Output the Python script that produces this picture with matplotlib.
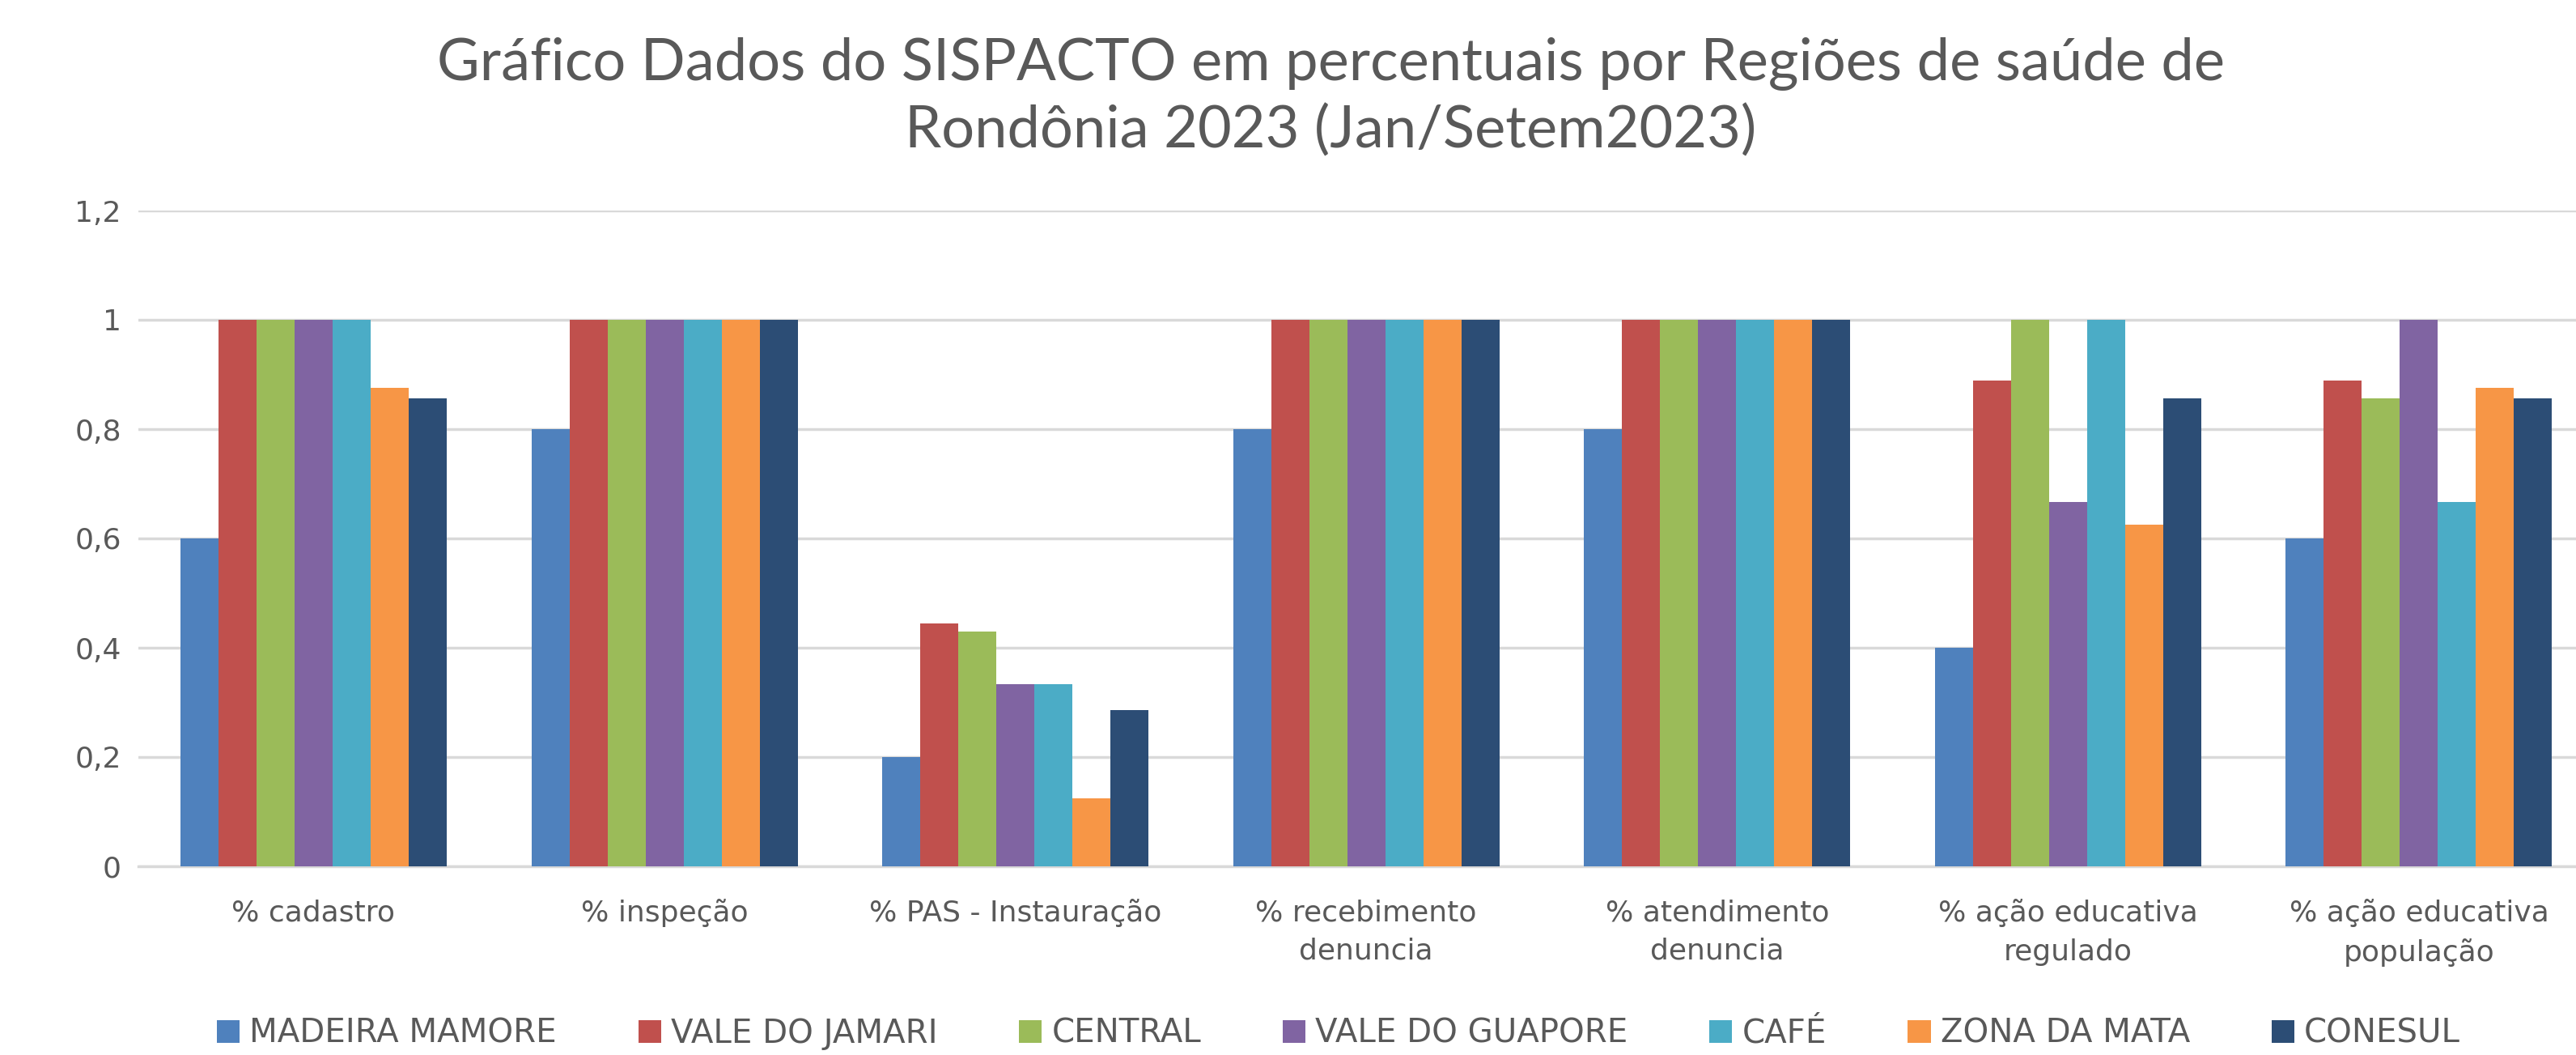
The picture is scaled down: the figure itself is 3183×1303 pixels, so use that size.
import matplotlib
matplotlib.use("Agg")
import matplotlib.pyplot as plt
import numpy as np

categorias = ["% cadastro", "% inspeção", "% PAS - Instauração",
              "% recebimento\ndenuncia", "% atendimento\ndenuncia",
              "% ação educativa\nregulado", "% ação educativa\npopulação"]

regioes = ["MADEIRA MAMORE", "VALE DO JAMARI", "CENTRAL", "VALE DO GUAPORE",
           "CAFÉ", "ZONA DA MATA", "CONESUL"]

madeira_mamore = [0.6, 0.8, 0.2, 0.8, 0.8, 0.4, 0.6]
vale_do_jamari = [1.0, 1.0, 0.444, 1.0, 1.0, 0.889, 0.889]
central = [1.0, 1.0, 0.429, 1.0, 1.0, 1.0, 0.857]
vale_do_guapore = [1.0, 1.0, 0.333, 1.0, 1.0, 0.667, 1.0]
cafe = [1.0, 1.0, 0.333, 1.0, 1.0, 1.0, 0.667]
zona_da_mata = [0.875, 1.0, 0.125, 1.0, 1.0, 0.625, 0.875]
conesul = [0.857, 1.0, 0.286, 1.0, 1.0, 0.857, 0.857]

series = [madeira_mamore, vale_do_jamari, central, vale_do_guapore,
          cafe, zona_da_mata, conesul]
cores = ["#4F81BD", "#C0504D", "#9BBB59", "#8064A2", "#4BACC6", "#F79646", "#2C4D75"]

yticks = [0, 0.2, 0.4, 0.6, 0.8, 1.0, 1.2]
ytick_labels = ["0", "0,2", "0,4", "0,6", "0,8", "1", "1,2"]

W, H = 3183, 1303
fig = plt.figure(figsize=(W / 100, H / 100), dpi=100)
# plot area runs past the right edge, as in the cropped original
ax = fig.add_axes([170.7 / W, (H - 1070) / H, 3035 / W, 810 / H])

x = np.arange(len(categorias))
w = 0.1084
for j, (vals, cor, nome) in enumerate(zip(series, cores, regioes)):
    ax.bar(x + (j - 3) * w, vals, width=w, color=cor, label=nome, zorder=3)

ax.set_xlim(-0.5, 6.5)
ax.set_ylim(0, 1.2)
ax.set_yticks(yticks)
ax.set_yticklabels(ytick_labels)
ax.set_xticks(x)
ax.set_xticklabels(categorias, linespacing=1.5)
ax.grid(axis="y", color="#D9D9D9", linewidth=2.5, zorder=0)
for s in ["top", "right", "left"]:
    ax.spines[s].set_visible(False)
ax.spines["bottom"].set_color("#D9D9D9")
ax.spines["bottom"].set_linewidth(2.5)
ax.tick_params(axis="y", length=0, pad=15, labelsize=26, labelcolor="#595959")
ax.tick_params(axis="x", length=0, pad=29, labelsize=26, labelcolor="#595959")

fig.text(0.5165, 0.908,
         "Gráfico Dados do SISPACTO em percentuais por Regiões de saúde de\nRondônia 2023 (Jan/Setem2023)",
         ha="center", va="center", fontsize=52, color="#595959",
         family="Lato", linespacing=1.3)

leg = fig.legend(loc="center", bbox_to_anchor=(1654 / W, 1 - 1277 / H), ncol=7,
                 frameon=False, fontsize=29, handlelength=0.7, handleheight=0.7,
                 handletextpad=0.3, columnspacing=2.5)
for t in leg.get_texts():
    t.set_color("#595959")

fig.savefig("out.png", dpi=100, facecolor="white")
